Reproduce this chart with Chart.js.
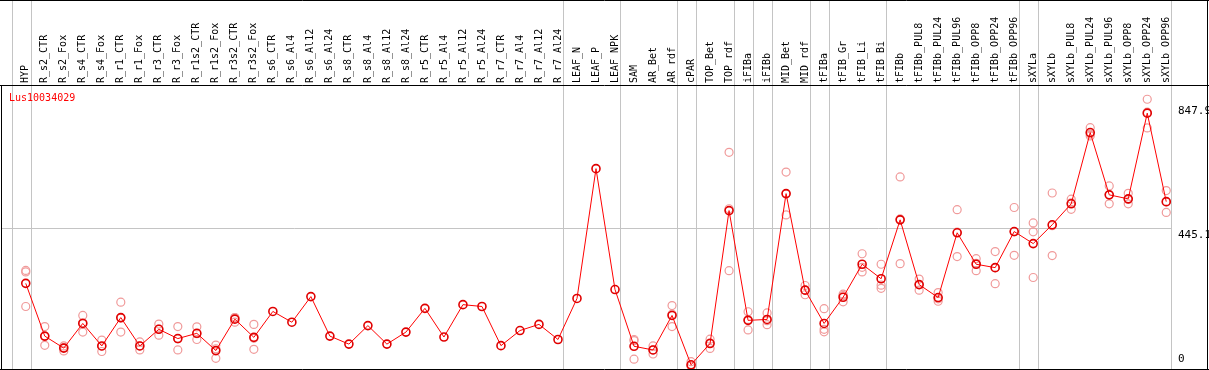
<!DOCTYPE html>
<html lang="en">
<head>
<meta charset="UTF-8">
<title>Lus10034029</title>
<style>
  body { margin: 0; background: #fff; }
  #wrap { width: 1209px; height: 370px; }
</style>
<script src="https://cdn.jsdelivr.net/npm/chart.js"></script>
</head>
<body>
<div id="wrap"><canvas id="chart" width="1209" height="370"></canvas></div>
<script>
// gene and sample names
const geneName = 'Lus10034029';
const samples = [
  'HYP', 'R_s2_CTR', 'R_s2_Fox', 'R_s4_CTR', 'R_s4_Fox', 'R_r1_CTR', 'R_r1_Fox',
  'R_r3_CTR', 'R_r3_Fox', 'R_r1s2_CTR', 'R_r1s2_Fox', 'R_r3s2_CTR', 'R_r3s2_Fox',
  'R_s6_CTR', 'R_s6_Al4', 'R_s6_Al12', 'R_s6_Al24', 'R_s8_CTR', 'R_s8_Al4',
  'R_s8_Al12', 'R_s8_Al24', 'R_r5_CTR', 'R_r5_Al4', 'R_r5_Al12', 'R_r5_Al24',
  'R_r7_CTR', 'R_r7_Al4', 'R_r7_Al12', 'R_r7_Al24', 'LEAF_N', 'LEAF_P', 'LEAF_NPK',
  'SAM', 'AR_Bet', 'AR_rdf', 'cPAR', 'TOP_Bet', 'TOP_rdf', 'iFIBa', 'iFIBb',
  'MID_Bet', 'MID_rdf', 'tFIBa', 'tFIB_Gr', 'tFIB_Li', 'tFIB_Bi', 'tFIBb',
  'tFIBb_PUL8', 'tFIBb_PUL24', 'tFIBb_PUL96', 'tFIBb_OPP8', 'tFIBb_OPP24', 'tFIBb_OPP96',
  'sXYLa', 'sXYLb', 'sXYLb_PUL8', 'sXYLb_PUL24', 'sXYLb_PUL96', 'sXYLb_OPP8',
  'sXYLb_OPP24', 'sXYLb_OPP96'
];

// mean expression (red line)
const meanValues = [
  268, 97, 58, 138, 65, 157, 65, 119, 89, 106, 50, 152, 93,
  177, 142, 225, 97, 71, 131, 71, 110, 187, 94, 199, 193, 66, 115, 135, 86,
  219, 640, 248, 64, 52, 164, 4, 73, 504, 148, 151, 559, 246,
  138, 223, 330, 283, 474, 264, 222, 432, 330, 319, 436,
  397, 458, 526, 757, 555, 542, 820, 533
];

// replicates (pink circles), null = not shown
const rep1 = [
  310, 128, 65, 164, 84, 207, 78, 136, 128, 127, 68, 157, 135,
  null, null, null, null, null, null, null, null, null, null, null, null, null, null, null, null,
  null, null, null, 86, 65, 196, 14, 87, 693, 176, 172, 629, 261,
  186, 233, 364, 330, 613, 282, 238, 507, 348, 371, 514,
  464, 561, 541, 773, 584, 560, 865, 569
];
const rep2 = [
  305, 67, 49, 110, 47, 110, 52, 100, 52, 86, 25, 142, 54,
  null, null, null, null, null, null, null, null, null, null, null, null, null, null, null, null,
  null, null, null, 82, 39, 128, 0, 57, 309, 117, 134, 490, 231,
  119, 208, 305, 262, 332, 246, 210, 355, 309, 267, 359,
  435, 358, 508, 752, 526, 526, 772, 498
];
const rep3 = [
  193, 96, 60, 140, 64, 155, 65, 120, 88, 105, 56, 157, 90,
  null, null, null, null, null, null, null, null, null, null, null, null, null, null, null, null,
  null, null, null, 22, 52, 168, 0, 75, 510, 151, 147, 558, 246,
  111, 228, 320, 252, 477, 264, 218, 434, 333, 319, 435,
  287, 455, 529, 746, 555, 540, 823, 532
];

// right-hand axis labels
const yTicks = [0, 445.1, 847.9];
// last sample index of each group (gray separators)
const groupEnds = [-1, 0, 28, 31, 34, 35, 37, 38, 39, 41, 42, 45, 52, 53, 60];

const mono = 'DejaVu Sans Mono, monospace';

const meanPoints = meanValues.map((v, i) => ({ x: i, y: v }));
const repPoints = [];
[rep1, rep2, rep3].forEach(rep => {
  rep.forEach((v, i) => { if (v !== null) repPoints.push({ x: i, y: v }); });
});

// separators, frame and gene name
const framePlugin = {
  id: 'frame',
  beforeDatasetsDraw(chart) {
    const { ctx, chartArea, scales } = chart;
    ctx.save();
    ctx.strokeStyle = '#c4c4c4';
    ctx.lineWidth = 1;
    groupEnds.forEach(g => {
      const x = Math.round(scales.x.getPixelForValue(g + 0.25)) + 0.5;
      ctx.beginPath();
      ctx.moveTo(x, 0);
      ctx.lineTo(x, chartArea.bottom);
      ctx.stroke();
    });
    ctx.restore();
  },
  afterDraw(chart) {
    const { ctx, chartArea, width } = chart;
    ctx.save();
    ctx.strokeStyle = '#000';
    ctx.lineWidth = 1;
    ctx.beginPath();
    ctx.moveTo(0, 0.5); ctx.lineTo(width, 0.5);
    ctx.moveTo(0, chartArea.top - 0.5); ctx.lineTo(width, chartArea.top - 0.5);
    ctx.moveTo(1.5, chartArea.top); ctx.lineTo(1.5, chartArea.bottom);
    ctx.moveTo(0, chartArea.bottom + 0.5); ctx.lineTo(width, chartArea.bottom + 0.5);
    ctx.moveTo(width - 1.5, 0); ctx.lineTo(width - 1.5, chartArea.bottom);
    ctx.stroke();
    ctx.fillStyle = '#ff0000';
    ctx.font = '10px ' + mono;
    ctx.textBaseline = 'top';
    ctx.fillText(geneName, 9, chartArea.top + 7);
    ctx.restore();
  }
};

new Chart(document.getElementById('chart'), {
  data: {
    datasets: [
      {
        type: 'line',
        label: 'mean',
        data: meanPoints,
        borderColor: '#ff0000',
        borderWidth: 1,
        pointRadius: 4,
        pointBorderColor: '#e00000',
        pointBackgroundColor: 'rgba(0,0,0,0)',
        pointBorderWidth: 1.6,
        order: 1
      },
      {
        type: 'scatter',
        label: 'replicates',
        data: repPoints,
        pointRadius: 4,
        pointBorderColor: '#f09a9a',
        pointBackgroundColor: 'rgba(0,0,0,0)',
        pointBorderWidth: 1.2,
        order: 2
      }
    ]
  },
  options: {
    responsive: false,
    animation: false,
    devicePixelRatio: 1,
    layout: { autoPadding: false, padding: { left: 2, right: 0, top: 0, bottom: 1 } },
    plugins: { legend: { display: false }, tooltip: { enabled: false } },
    scales: {
      x: {
        type: 'linear',
        position: 'top',
        min: -1.25,
        max: 60.25,
        afterBuildTicks: scale => { scale.ticks = samples.map((s, i) => ({ value: i })); },
        afterFit: scale => {
          scale.height = 86;
          scale.paddingLeft = 0;
          scale.paddingRight = 0;
        },
        ticks: {
          autoSkip: false,
          minRotation: 90,
          maxRotation: 90,
          padding: 3,
          labelOffset: 12,
          color: '#000',
          font: { family: mono, size: 10 },
          callback: v => samples[v]
        },
        grid: { display: false, drawTicks: false },
        border: { display: false }
      },
      y: {
        type: 'linear',
        position: 'right',
        min: -9.7,
        max: 908,
        afterBuildTicks: scale => { scale.ticks = yTicks.map(v => ({ value: v })); },
        afterFit: scale => {
          scale.width = 38;
          scale.paddingTop = 0;
          scale.paddingBottom = 0;
        },
        ticks: {
          padding: 7,
          color: '#000',
          font: { family: mono, size: 11 },
          callback: v => v === 0 ? ['0', ''] : ['', String(v)]
        },
        grid: {
          drawTicks: false,
          color: ctx => ctx.tick && ctx.tick.value === 445.1 ? '#c4c4c4' : 'rgba(0,0,0,0)'
        },
        border: { display: false }
      }
    }
  },
  plugins: [framePlugin]
});
</script>
</body>
</html>
